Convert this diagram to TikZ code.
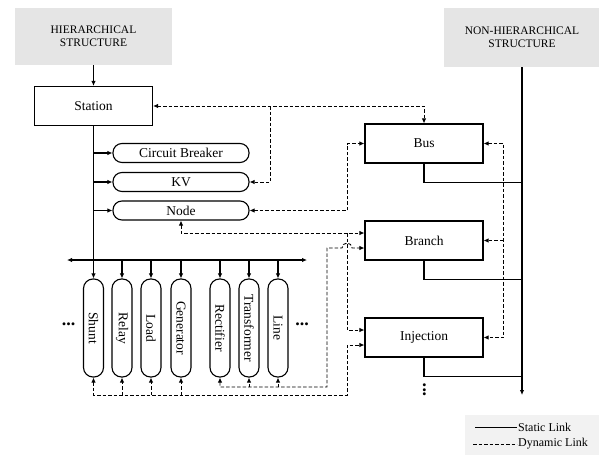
\documentclass[tikz,border=0pt]{standalone}
\usepackage{fontspec}
\setmainfont{Liberation Serif}
\usetikzlibrary{arrows.meta}

\tikzset{
  static/.style={line width=1.1pt},
  dynamic/.style={line width=0.9pt, dash pattern=on 3.5pt off 2pt},
  >={Latex[length=5pt,width=4.5pt]},
  header/.style={fill=black!10, minimum width=157pt, minimum height=57pt,
    align=center, font=\fontsize{11.5}{13}\selectfont},
  block/.style={draw, line width=1.1pt, minimum width=118pt, minimum height=39pt,
    font=\fontsize{13.5}{15}\selectfont},
  pill/.style={draw, line width=1.1pt, rounded corners=9pt, minimum width=136pt,
    minimum height=19pt, inner sep=0pt, font=\fontsize{13.5}{15}\selectfont},
  vpill/.style={draw, line width=1.1pt, rounded corners=9.5pt, minimum width=20pt,
    minimum height=98pt, inner sep=0pt, font=\fontsize{13.5}{15}\selectfont},
  dots/.style={inner sep=0pt, font=\bfseries\fontsize{18}{18}\selectfont},
}

\begin{document}
\begin{tikzpicture}[x=1pt,y=-1pt]
    \useasboundingbox (0,0) rectangle (599,455);

    % Headers
    \node[header] (hier) at (93.5,36.5) {HIERARCHICAL\\STRUCTURE};
    \node[header, minimum width=156pt, minimum height=59pt] (nonhier) at (522,37.5) {NON-HIERARCHICAL\\STRUCTURE};

    % Hierarchical side
    \node[block] (station) at (93.5,106) {Station};
    \node[pill] (cb) at (181,153) {Circuit Breaker};
    \node[pill] (kv) at (181,182) {KV};
    \node[pill] (nodeb) at (181,210.5) {Node};
    \foreach \name/\txt/\x in {shunt/Shunt/93.5, relay/Relay/122, load/Load/151,
        gen/Generator/181, rect/Rectifier/220, trans/Transformer/249, line/Line/278}
      \node[vpill] (\name) at (\x,328) {\rotatebox{-90}{\txt}};

    % Non-hierarchical side
    \node[block] (bus) at (424,143.5) {Bus};
    \node[block] (branch) at (424,240.5) {Branch};
    \node[block] (inj) at (424,337.5) {Injection};

    % Coordinates
    \coordinate (busL) at (67,260);
    \coordinate (busR) at (307,260);
    \coordinate (trunkR) at (522,395);
    \coordinate (jKV) at (270,106);
    \coordinate (jInj) at (347,233);
    \coordinate (lowA) at (347,395);
    \coordinate (lowB) at (327,387);
    \coordinate (jR) at (503,240.5);
    \coordinate (brA) at ([yshift=7.5pt]branch.west);
    \coordinate (brB) at ([yshift=-7.5pt]branch.west);
    \coordinate (injA) at ([yshift=7.5pt]inj.west);
    \coordinate (injB) at ([yshift=-7.5pt]inj.west);

    % Static links
    \draw[static,->] (station.north |- hier.south) -- (station.north);
    \draw[static,->] (station.south) -- (shunt.north);
    \foreach \p in {cb,kv,nodeb}
      \draw[static,->] (station.south |- \p.west) -- (\p.west);
    \draw[static,<->] (busL) -- (busR);
    \foreach \p in {relay,load,gen,rect,trans,line}
      \draw[static,->] (\p.north |- busL) -- (\p.north);
    \draw[static,->] (nonhier.south) -- (trunkR);
    \foreach \p in {bus,branch,inj}
      \draw[static] (\p.south) -- ++(0,19) -- ++(98,0);

    % Dynamic links
    \draw[dynamic,<->] (station.east) -| (bus.north);
    \draw[dynamic,->] (jKV) |- (kv.east);
    \draw[dynamic,<->] (nodeb.east) -- ++(98,0) |- (bus.west);
    \draw[dynamic,<->] (nodeb.south) |- (brA);
    \draw[dynamic,->] (jInj) |- (injA);
    \draw[dynamic,<->] (rect.south) |- (lowB) |- (342,248)
      arc[start angle=180, end angle=0, radius=5pt] -- (brB);
    \foreach \p in {trans,line}
      \draw[dynamic,->] (\p.south |- lowB) -- (\p.south);
    \draw[dynamic,<->] (shunt.south) |- (lowA) |- (injB);
    \foreach \p in {relay,load,gen}
      \draw[dynamic,->] (\p.south |- lowA) -- (\p.south);
    \draw[dynamic,<->] (bus.east) -- ++(20,0) |- (inj.east);
    \draw[dynamic,->] (jR) -- (branch.east);

    % Dots
    \node[dots] (dotsL) at (68.5,324) {...};
    \node[dots] (dotsR) at (302,324) {...};
    \node[dots] (dotsV) at (424.5,390) {\rotatebox{90}{...}};

    % Legend
    \fill[black!5] (465,415) rectangle (599,455);
    \node[anchor=west, inner sep=1pt, font=\fontsize{12}{12}\selectfont] (lstat) at (517,427.5) {Static Link};
    \node[anchor=west, inner sep=1pt, font=\fontsize{12}{12}\selectfont] (ldyn) at (517,444) {Dynamic Link};
    \coordinate (legA) at (475,427.5);
    \coordinate (legB) at (473,444);
    \draw[static] (legA) -- (lstat.west);
    \draw[dynamic] (legB) -- (ldyn.west);

\end{tikzpicture}
\end{document}
